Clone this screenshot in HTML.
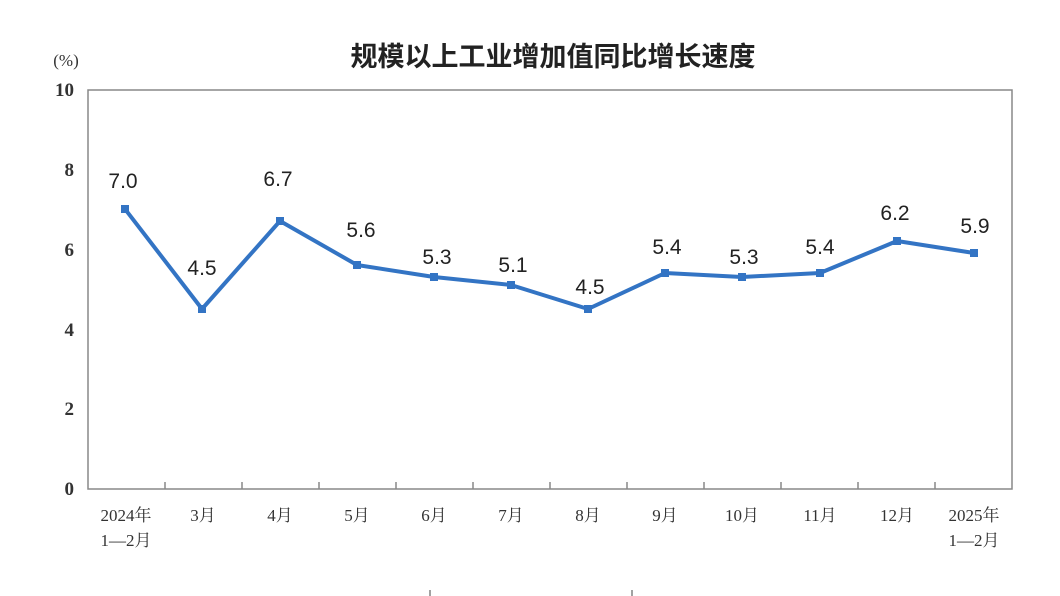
<!DOCTYPE html>
<html><head><meta charset="utf-8"><style>
body{margin:0;background:#fff;}
svg{display:block;}
</style></head><body>
<svg width="1060" height="596" xmlns="http://www.w3.org/2000/svg">
<text x="553" y="66" text-anchor="middle" font-family="'Liberation Sans','Noto Sans CJK SC',sans-serif" font-size="27" font-weight="bold" fill="#222">规模以上工业增加值同比增长速度</text>
<text x="66" y="66" text-anchor="middle" font-family="'Liberation Serif',serif" font-size="17" fill="#333">(%)</text>
<rect x="88" y="90" width="924" height="399" fill="none" stroke="#888" stroke-width="1.5"/>
<g stroke="#888" stroke-width="1.5">
<line x1="165" y1="489" x2="165" y2="482"/><line x1="242" y1="489" x2="242" y2="482"/><line x1="319" y1="489" x2="319" y2="482"/><line x1="396" y1="489" x2="396" y2="482"/><line x1="473" y1="489" x2="473" y2="482"/><line x1="550" y1="489" x2="550" y2="482"/><line x1="627" y1="489" x2="627" y2="482"/><line x1="704" y1="489" x2="704" y2="482"/><line x1="781" y1="489" x2="781" y2="482"/><line x1="858" y1="489" x2="858" y2="482"/><line x1="935" y1="489" x2="935" y2="482"/>
</g>
<g font-family="'Liberation Serif',serif" font-size="19" font-weight="bold" fill="#333" text-anchor="end">
<text x="74" y="96">10</text><text x="74" y="176">8</text><text x="74" y="256">6</text><text x="74" y="336">4</text><text x="74" y="415">2</text><text x="74" y="495">0</text>
</g>
<g font-family="'Liberation Serif','Noto Serif CJK SC',serif" font-size="17" fill="#333" text-anchor="middle">
<text x="126" y="521">2024年</text><text x="126" y="546">1—2月</text>
<text x="203" y="521">3月</text><text x="280" y="521">4月</text><text x="357" y="521">5月</text><text x="434" y="521">6月</text><text x="511" y="521">7月</text><text x="588" y="521">8月</text><text x="665" y="521">9月</text><text x="742" y="521">10月</text><text x="820" y="521">11月</text><text x="897" y="521">12月</text>
<text x="974" y="521">2025年</text><text x="974" y="546">1—2月</text>
</g>
<polyline fill="none" stroke="#3374c4" stroke-width="4" stroke-linejoin="round" points="125,209 202,309 280,221 357,265 434,277 511,285 588,309 665,273 742,277 820,273 897,241 974,253"/>
<g fill="#3374c4">
<rect x="121" y="205" width="8" height="8"/><rect x="198" y="305" width="8" height="8"/><rect x="276" y="217" width="8" height="8"/><rect x="353" y="261" width="8" height="8"/><rect x="430" y="273" width="8" height="8"/><rect x="507" y="281" width="8" height="8"/><rect x="584" y="305" width="8" height="8"/><rect x="661" y="269" width="8" height="8"/><rect x="738" y="273" width="8" height="8"/><rect x="816" y="269" width="8" height="8"/><rect x="893" y="237" width="8" height="8"/><rect x="970" y="249" width="8" height="8"/>
</g>
<g font-family="'Liberation Sans',sans-serif" font-size="21" fill="#222" text-anchor="middle">
<text x="123" y="188">7.0</text><text x="202" y="275">4.5</text><text x="278" y="186">6.7</text><text x="361" y="237">5.6</text><text x="437" y="264">5.3</text><text x="513" y="272">5.1</text><text x="590" y="294">4.5</text><text x="667" y="254">5.4</text><text x="744" y="264">5.3</text><text x="820" y="254">5.4</text><text x="895" y="220">6.2</text><text x="975" y="233">5.9</text>
</g>
<line x1="430" y1="590" x2="430" y2="596" stroke="#444"/><line x1="632" y1="590" x2="632" y2="596" stroke="#444"/>
</svg>
</body></html>
